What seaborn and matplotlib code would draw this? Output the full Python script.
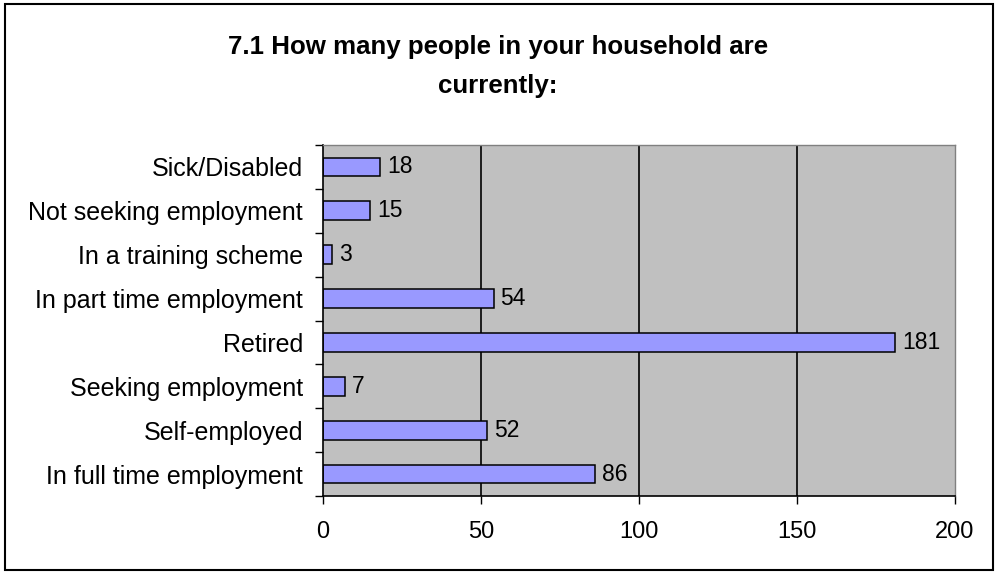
import pandas as pd
import matplotlib.pyplot as plt
import seaborn as sns
import numpy as np
from matplotlib.patches import Rectangle

categories = ['Sick/Disabled', 'Not seeking employment', 'In a training scheme',
              'In part time employment', 'Retired', 'Seeking employment',
              'Self-employed', 'In full time employment']
counts = [18, 15, 3, 54, 181, 7, 52, 86]

df = pd.DataFrame({'status': categories, 'count': counts})

sns.set_style('white')
plt.rcParams['font.family'] = ['Liberation Sans', 'DejaVu Sans']
plt.rcParams['text.color'] = 'black'
plt.rcParams['xtick.color'] = 'black'
plt.rcParams['ytick.color'] = 'black'

fig = plt.figure(figsize=(9.96, 5.74), dpi=100)
ax = fig.add_axes([0.3243, 0.1359, 0.6345, 0.6114])
ax.set_facecolor('#c0c0c0')

sns.barplot(data=df, x='count', y='status', order=categories, color='#9999ff',
            edgecolor='black', linewidth=1.1, width=0.43, saturation=1, ax=ax)

for i, v in enumerate(counts):
    ax.text(v + 2.2, i, str(v), va='center', ha='left', fontsize=16.5, color='black')

ax.set_xlim(0, 200)
ax.set_ylim(len(categories) - 0.5, -0.5)
ax.set_xticks([0, 50, 100, 150, 200])
ax.tick_params(axis='x', labelsize=17, length=6, width=1, color='black',
               direction='out', bottom=True, pad=12, labelcolor='black')
ax.tick_params(axis='y', labelsize=18, length=0, pad=14.5, labelcolor='black')
ax.set_yticks(np.arange(-0.5, len(categories)), minor=True)
ax.tick_params(axis='y', which='minor', length=6, width=1, color='black',
               direction='out', left=True)
for x in [50, 100, 150]:
    ax.axvline(x, color='black', linewidth=1.2, zorder=0)
ax.set_axisbelow(True)
ax.set_xlabel('')
ax.set_ylabel('')

for s in ['left', 'bottom']:
    ax.spines[s].set_color('black')
    ax.spines[s].set_linewidth(1.2)
for s in ['top', 'right']:
    ax.spines[s].set_color('#808080')
    ax.spines[s].set_linewidth(1)

fig.text(0.5, 1 - 54 / 574, '7.1 How many people in your household are',
         ha='center', va='baseline', fontsize=18.6, fontweight='bold', color='black')
fig.text(0.5, 1 - 93 / 574, 'currently:',
         ha='center', va='baseline', fontsize=18.6, fontweight='bold', color='black')

fig.patches.append(Rectangle((5 / 996, 4 / 574), 988 / 996, 566 / 574,
                             transform=fig.transFigure, fill=False,
                             edgecolor='black', linewidth=1.5))

fig.savefig('out.png', dpi=100)
